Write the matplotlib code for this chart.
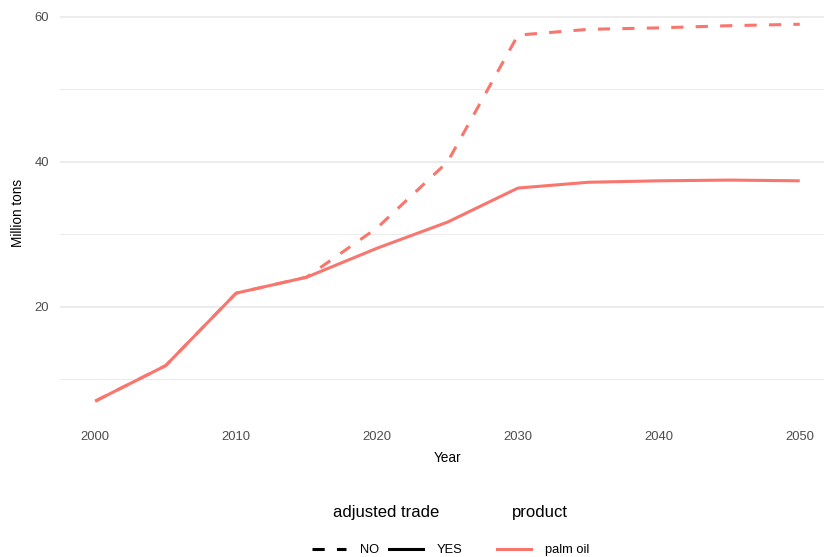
import matplotlib
matplotlib.use("Agg")
from matplotlib import pyplot as plt
from matplotlib.lines import Line2D

plt.rcParams["font.family"] = ["Liberation Sans", "DejaVu Sans"]

# Datos
years = [2000, 2005, 2010, 2015, 2020, 2025, 2030, 2035, 2040, 2045, 2050]
palm_oil_yes = [7.0, 11.9, 21.9, 24.1, 28.1, 31.7, 36.4, 37.2, 37.4, 37.5, 37.4]
palm_oil_no = [7.0, 11.9, 21.9, 24.1, 30.9, 40.0, 57.5, 58.3, 58.5, 58.8, 59.0]

x_ticks = [2000, 2010, 2020, 2030, 2040, 2050]
y_ticks = [20, 40, 60]
y_minor = [10, 30, 50]

color = "#F8766D"
W, H = 824, 557

fig = plt.figure(figsize=(W / 100, H / 100), dpi=100)
# El panel se sale un poco por la derecha, como en el original
ax = fig.add_axes([60 / W, (H - 420) / H, 775 / W, 414.6 / H])

ax.plot(years, palm_oil_no, color=color, lw=2.2, dashes=(4, 4), solid_capstyle="butt")
ax.plot(years, palm_oil_yes, color=color, lw=2.2, solid_capstyle="butt")

ax.set_xlim(1997.5, 2052.5)
ax.set_ylim(4.4, 61.6)
ax.set_xticks(x_ticks)
ax.set_yticks(y_ticks)
ax.set_yticks(y_minor, minor=True)

for s in ax.spines.values():
    s.set_visible(False)
ax.tick_params(which="both", length=0, labelsize=9.4, labelcolor="#4D4D4D", pad=8)
ax.grid(axis="y", which="major", color="#EBEBEB", lw=1.3)
ax.grid(axis="y", which="minor", color="#EBEBEB", lw=0.7)
ax.grid(axis="x", visible=False)
ax.set_axisbelow(True)

ax.set_xlabel("Year", fontsize=9.8, labelpad=6)
ax.set_ylabel("Million tons", fontsize=9.8, labelpad=7)

# Leyenda inferior
fig.text(386 / W, (H - 512) / H, "adjusted trade", fontsize=12, ha="center", va="center")
fig.text(540 / W, (H - 512) / H, "product", fontsize=12, ha="center", va="center")

trade_handles = [
    Line2D([], [], color="black", lw=2.2, dashes=(4, 4)),
    Line2D([], [], color="black", lw=2.2),
]
fig.legend(trade_handles, ["NO", "YES"], loc="center left", ncol=2,
           bbox_to_anchor=(312 / W, (H - 550) / H), frameon=False, fontsize=9.3,
           handlelength=2.6, handletextpad=1.1, columnspacing=0.8,
           borderpad=0, borderaxespad=0)
product_handles = [Line2D([], [], color=color, lw=2.2)]
fig.legend(product_handles, ["palm oil"], loc="center left",
           bbox_to_anchor=(497 / W, (H - 550) / H), frameon=False, fontsize=9.3,
           handlelength=2.6, handletextpad=1.1, borderpad=0, borderaxespad=0)

fig.savefig("out.png", dpi=100)
